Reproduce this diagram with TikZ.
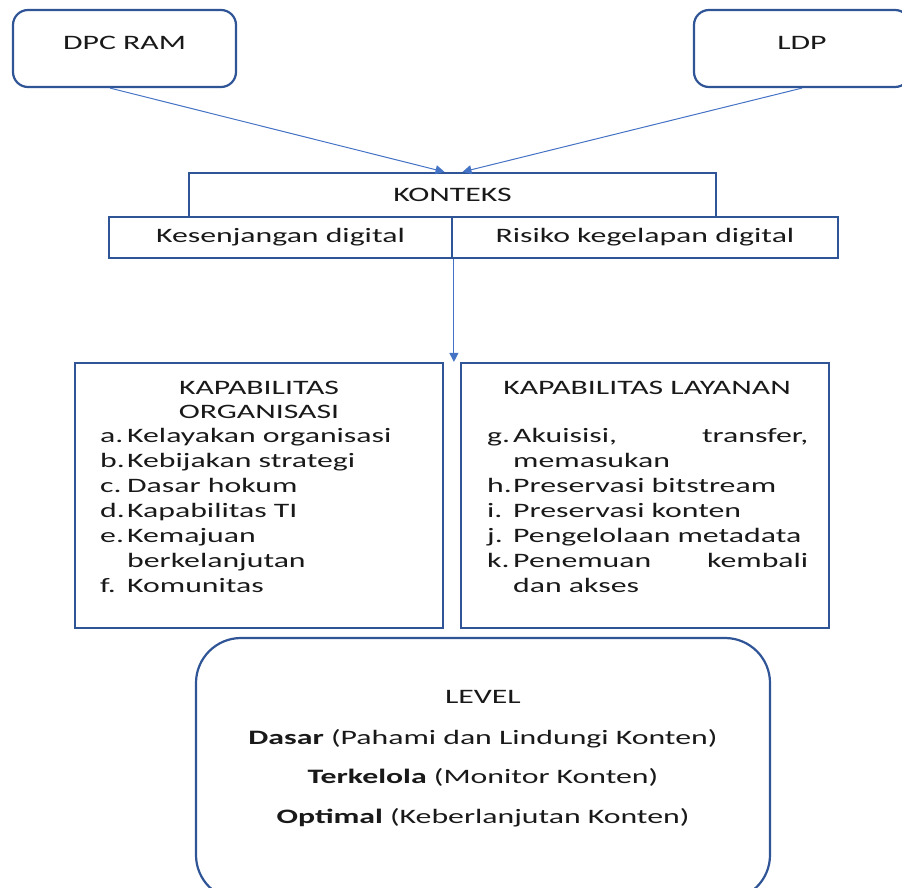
\documentclass[tikz,border=0pt]{standalone}
\usepackage{fontspec}
\setmainfont{Carlito}[FakeStretch=1.55]
\usepackage{tikz}
\usetikzlibrary{arrows.meta}
\definecolor{boxblue}{RGB}{47,85,151}
\definecolor{arrowblue}{RGB}{68,114,196}
\definecolor{ink}{RGB}{25,25,25}
\newcommand{\bigfont}{\fontsize{20.5}{25}\selectfont}
\tikzstyle{roundbox}=[rectangle, rounded corners=15pt, draw=boxblue, line width=2.2pt, minimum width=223pt, minimum height=77pt, text depth=11pt]
\tikzstyle{plainbox}=[rectangle, draw=boxblue, line width=2.2pt]
\tikzstyle{flow}=[draw=arrowblue, line width=1pt]
\tikzstyle{line}=[anchor=base, inner sep=0pt]

\begin{document}
\begin{tikzpicture}[x=1pt, y=-1pt, >={Triangle[length=9pt, width=9pt]}, font=\bigfont, text=ink]
                    \useasboundingbox (0,0) rectangle (902,887);
                    % top sources
                    \node[roundbox] (dpc) at (124.5, 48.5) {DPC RAM};
                    \node[roundbox, minimum width=216pt] (ldp) at (802, 48.5) {LDP};
                    % context
                    \node[plainbox, minimum width=527pt, minimum height=44pt] (konteks) at (452.5, 195) {KONTEKS};
                    \node[plainbox, minimum width=343pt, minimum height=41pt] (kes) at (280.5, 237.5) {Kesenjangan digital};
                    \node[plainbox, minimum width=386pt, minimum height=41pt] (ris) at (645, 237.5) {Risiko kegelapan digital};
                    % capabilities
                    \node[plainbox, minimum width=368pt, minimum height=265pt] (org) at (259, 495.5) {};
                    \node[plainbox, minimum width=368pt, minimum height=265pt] (lay) at (645, 495.5) {};
                    \node[align=center, font=\fontsize{20.5}{23.5}\selectfont] (orgtitle) at (259, 400) {KAPABILITAS\\ORGANISASI};
                    \node[line] (laytitle) at (647, 394.5) {KAPABILITAS LAYANAN};
                    \node[anchor=base west, inner sep=0pt] (orglist) at (100, 442) {%
                        \begin{tabular}[t]{@{}p{27pt}@{}l@{}}
                        a. & Kelayakan organisasi\\
                        b. & Kebijakan strategi\\
                        c. & Dasar hokum\\
                        d. & Kapabilitas TI\\
                        e. & Kemajuan\\
                           & berkelanjutan\\
                        f. & Komunitas
                        \end{tabular}};
                    \node[anchor=base west, inner sep=0pt] (laylist) at (487, 442) {%
                        \begin{tabular}[t]{@{}p{26pt}@{}p{295pt}@{}}
                        g. & Akuisisi,\hfill transfer,\\
                           & memasukan\\
                        h. & Preservasi bitstream\\
                        i. & Preservasi konten\\
                        j. & Pengelolaan metadata\\
                        k. & Penemuan\hfill kembali\\
                           & dan akses
                        \end{tabular}};
                    % level
                    \node[plainbox, rounded corners=45pt, minimum width=574pt, minimum height=262pt] (level) at (483, 769) {};
                    \node[line] (levtitle) at (483, 703.5) {LEVEL};
                    \node[line] (lev1) at (483, 744) {\textbf{Dasar} (Pahami dan Lindungi Konten)};
                    \node[line] (lev2) at (483, 783.5) {\textbf{Terkelola} (Monitor Konten)};
                    \node[line] (lev3) at (483, 823) {\textbf{Optimal} (Keberlanjutan Konten)};
                    % connectors
                    \coordinate (drop) at ([xshift=3pt]ris.south west);
                    \coordinate (tip) at (drop |- org.north);
                    \draw[flow, ->] (dpc.-110) -- ([xshift=-8pt]konteks.north);
                    \draw[flow, ->] (ldp.south) -- ([xshift=10pt]konteks.north);
                    \draw[flow, ->] (drop) -- (tip);
                \end{tikzpicture}
\end{document}
